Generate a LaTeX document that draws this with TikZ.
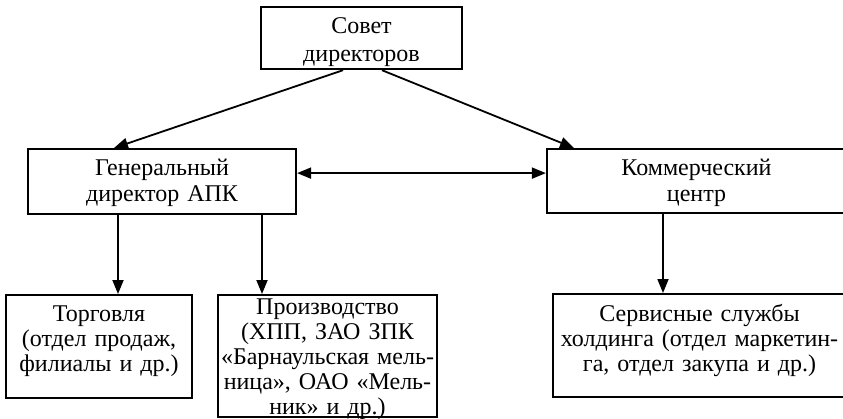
\documentclass[tikz,border=0pt]{standalone}
\usepackage{fontspec}
\setmainfont{Liberation Serif}
\usetikzlibrary{arrows.meta}

\begin{document}
\begin{tikzpicture}[
x=1pt, y=-1pt,
box/.style={draw, line width=2.2pt, anchor=north, align=center, inner xsep=0pt, inner ysep=0pt, font=\fontsize{24}{25}\selectfont},
arr/.style={-{Triangle[length=14pt,width=11pt]}, line width=1.8pt},
darr/.style={{Triangle[length=14pt,width=11pt]}-{Triangle[length=14pt,width=11pt]}, line width=1.8pt}
]
\useasboundingbox (0,0) rectangle (843,418);

\node[box, text width=201pt, text height=26pt, text depth=36pt, font=\fontsize{24}{28}\selectfont] (sovet) at (361.5,6) {Совет\\директоров};
\node[box, text width=268pt, text height=26pt, text depth=39pt, font=\fontsize{24}{26}\selectfont] (gen) at (162,148) {Генеральный\\директор АПК};
\node[box, text width=299pt, text height=26pt, text depth=38pt, font=\fontsize{24}{26}\selectfont] (kom) at (696.5,148) {Коммерческий\\центр};
\node[box, text width=186pt, text height=26pt, text depth=77pt] (torg) at (99,294) {Торговля\\(отдел продаж,\\филиалы и др.)};
\node[box, text width=219pt, text height=19pt, text depth=103pt] (proizv) at (327.5,294) {Производство\\(ХПП, ЗАО ЗПК\\«Барнаульская мель-\\ница», ОАО «Мель-\\ник» и др.)};
\node[box, text width=293pt, text height=27pt, text depth=76pt] (serv) at (699.5,293) {Сервисные службы\\холдинга (отдел маркетин-\\га, отдел закупа и др.)};

\draw[arr] ([xshift=-18.5pt]sovet.south) -- ([xshift=-48pt]gen.north);
\draw[arr] ([xshift=20.5pt]sovet.south) -- ([xshift=-122.5pt]kom.north);
\draw[darr] ([yshift=8.5pt]gen.east) -- ([yshift=8.5pt]gen.east -| kom.west);
\draw[arr] ([xshift=-44pt]gen.south) -- ([xshift=-44pt]gen.south |- torg.north);
\draw[arr] ([xshift=100pt]gen.south) -- ([xshift=100pt]gen.south |- proizv.north);
\draw[arr] ([xshift=-33.5pt]kom.south) -- ([xshift=-33.5pt]kom.south |- serv.north);
\end{tikzpicture}
\end{document}
